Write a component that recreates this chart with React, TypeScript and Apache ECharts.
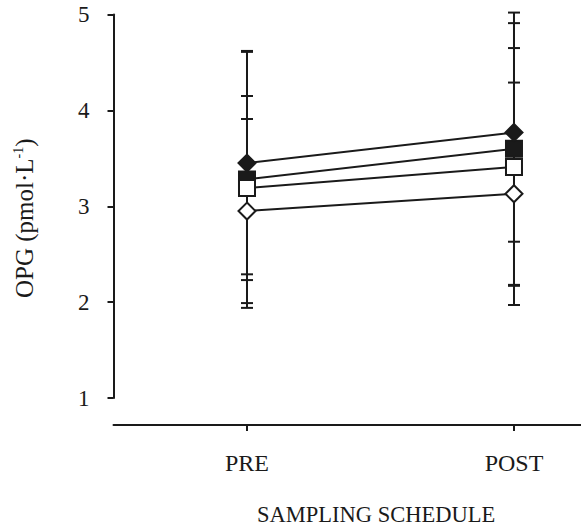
import React, { useEffect, useRef } from "react";
import * as echarts from "echarts";

const categories = ["PRE", "POST"];
const yTicks = [1, 2, 3, 4, 5];

// group means (pmol·L-1) at PRE and POST
const filledDiamond = [3.45, 3.77];
const filledSquare = [3.28, 3.6];
const openSquare = [3.19, 3.41];
const openDiamond = [2.95, 3.13];

// standard deviations at PRE and POST
const filledDiamondSD = [1.16, 1.14];
const filledSquareSD = [1.34, 1.42];
const openSquareSD = [0.96, 1.24];
const openDiamondSD = [0.96, 1.16];

const FONT = "Liberation Serif";
const INK = "#1a1a1a";

const groups = [
  { name: "filledSquare", mean: filledSquare, sd: filledSquareSD, symbol: "rect", fill: INK },
  { name: "openSquare", mean: openSquare, sd: openSquareSD, symbol: "rect", fill: "#ffffff" },
  { name: "openDiamond", mean: openDiamond, sd: openDiamondSD, symbol: "diamond", fill: "#ffffff" },
  { name: "filledDiamond", mean: filledDiamond, sd: filledDiamondSD, symbol: "diamond", fill: INK },
];

const catIdx = categories.map((_, i) => i);

export default function App() {
  const ref = useRef<HTMLDivElement>(null);

  useEffect(() => {
    if (!ref.current) return;
    const chart = echarts.init(ref.current, undefined, { renderer: "svg" });

    const errorSeries = groups.map((g) => ({
      type: "custom",
      name: g.name + "-sd",
      z: 1,
      data: g.mean.map((m, i) => [i, m - g.sd[i], m + g.sd[i]]),
      encode: { x: 0, y: [1, 2] },
      renderItem: (_params: any, api: any) => {
        const x = api.value(0);
        const lo = api.coord([x, api.value(1)]);
        const hi = api.coord([x, api.value(2)]);
        const hw = 6;
        const style = { stroke: INK, lineWidth: 2 };
        return {
          type: "group",
          children: [
            { type: "line", shape: { x1: lo[0], y1: lo[1], x2: hi[0], y2: hi[1] }, style },
            { type: "line", shape: { x1: hi[0] - hw, y1: hi[1], x2: hi[0] + hw, y2: hi[1] }, style },
            { type: "line", shape: { x1: lo[0] - hw, y1: lo[1], x2: lo[0] + hw, y2: lo[1] }, style },
          ],
        };
      },
    }));

    const lineSeries = groups.map((g, k) => ({
      type: "line",
      name: g.name,
      z: 5 + k,
      data: g.mean.map((m, i) => [i, m]),
      symbol: g.symbol,
      symbolSize: g.symbol === "rect" ? 16 : 17,
      showAllSymbol: true,
      lineStyle: { color: INK, width: 2 },
      itemStyle: { color: g.fill, borderColor: INK, borderWidth: 2 },
    }));

    chart.setOption({
      animation: false,
      backgroundColor: "#ffffff",
      title: {
        text: "SAMPLING SCHEDULE",
        left: 257,
        top: 503,
        padding: 0,
        textStyle: { fontFamily: FONT, fontSize: 22.5, lineHeight: 22, fontWeight: "normal", color: INK },
      },
      grid: { left: 113.5, right: 0, top: 14.5, bottom: 128 },
      xAxis: {
        type: "value",
        min: -0.5,
        max: 1.251,
        offset: 27,
        splitLine: { show: false },
        axisLine: { onZero: false, lineStyle: { color: INK, width: 2 } },
        axisTick: { show: true, customValues: catIdx, length: 6, lineStyle: { color: INK, width: 2 } },
        axisLabel: {
          customValues: catIdx,
          formatter: (v: number) => categories[Math.round(v)] ?? "",
          fontFamily: FONT,
          fontSize: 24,
          color: INK,
          margin: 26,
        },
      },
      yAxis: {
        type: "value",
        min: yTicks[0],
        max: yTicks[yTicks.length - 1],
        interval: 1,
        splitLine: { show: false },
        axisLine: { show: true, onZero: false, lineStyle: { color: INK, width: 2 } },
        axisTick: { show: true, length: 6, lineStyle: { color: INK, width: 2 } },
        axisLabel: { fontFamily: FONT, fontSize: 23, color: INK, margin: 24 },
        name: "{a|OPG (pmol·L}{s|-1}{a|)}",
        nameLocation: "middle",
        nameGap: 76,
        nameTextStyle: {
          color: INK,
          padding: [0, 24, 0, 0],
          rich: {
            a: { fontFamily: FONT, fontSize: 25, color: INK },
            s: { fontFamily: FONT, fontSize: 14, color: INK, verticalAlign: "top", padding: [0, 0, 12, 0] },
          },
        },
      },
      series: [...errorSeries, ...lineSeries],
    });

    return () => chart.dispose();
  }, []);

  return (
    <div
      ref={ref}
      style={{ position: "fixed", left: 0, top: 0, width: 581, height: 526 }}
    />
  );
}
